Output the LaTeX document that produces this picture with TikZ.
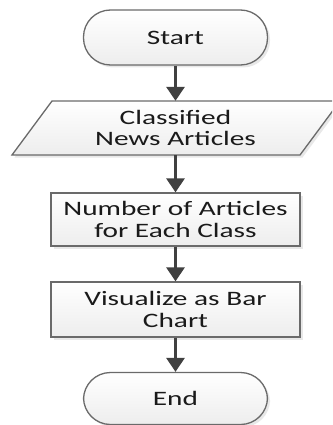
\documentclass[tikz,border=0pt]{standalone}
\usepackage{fontspec}
\setmainfont[FakeStretch=1.43]{Carlito}
\usetikzlibrary{arrows.meta,shadows}
\definecolor{edge}{HTML}{6A6A6A}
\definecolor{arrowc}{HTML}{404040}
\definecolor{txt}{HTML}{1A1A1A}
\begin{document}
\begin{tikzpicture}[x=1pt,y=-1pt,
  shp/.style={draw=edge, line width=1.3pt, top color=white, bottom color=black!7,
    drop shadow={shadow xshift=2.5pt, shadow yshift=-2.5pt, fill=black!25, opacity=0.35}},
  lbl/.style={text=txt, font=\fontsize{20.5}{21.5}\selectfont, align=center, inner sep=0pt},
  termbox/.style={shp, lbl, rounded corners=27pt, minimum width=184pt},
  procbox/.style={shp, lbl, minimum width=249pt},
  flow/.style={draw=arrowc, line width=3pt, -{Triangle[width=18pt,length=14pt]}}]
\clip (0,0) rectangle (332,425);
\fill[white] (0,0) rectangle (332,425);
% parallelogram
\path[shp] (12,155) -- (52,101) -- (340,101) -- (300,155) -- cycle;
\node[termbox, minimum height=55pt] (start) at (175.5,37.5) {Start};
\node[lbl, minimum width=250pt, minimum height=54pt] (data) at (175.5,128) {Classified\\News Articles};
\node[procbox, minimum height=53pt] (box1) at (175.5,219.5) {Number of Articles\\for Each Class};
\node[procbox, minimum height=55pt] (box2) at (175.5,309.5) {Visualize as Bar\\Chart};
\node[termbox, minimum height=52pt] (end) at (175.5,398.5) {End};
\draw[flow] (start.south) -- (data.north);
\draw[flow] (data.south) -- (box1.north);
\draw[flow] (box1.south) -- (box2.north);
\draw[flow] (box2.south) -- (end.north);
\end{tikzpicture}
\end{document}
